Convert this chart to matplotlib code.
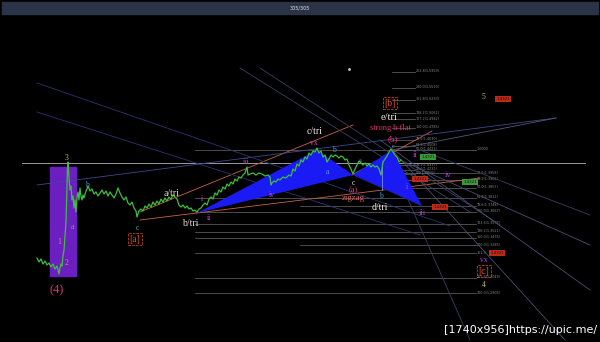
import matplotlib.pyplot as plt
from matplotlib.patches import Rectangle, Polygon

# ── price path (screen units: x to the right, y downward) ─────────────────────
price_x = [37, 39, 41, 43, 45, 47, 49, 51, 53, 55, 57, 59, 60, 61, 62, 63, 64, 65, 66, 66.5,
           67, 67.5, 68, 69, 70, 71, 72, 73, 74, 75, 76, 77, 78, 79, 80, 81, 82, 83, 84, 85,
           88, 90, 92, 94, 96, 98, 100, 102, 104, 106, 108, 110, 112, 114, 116, 118, 120, 122,
           124, 126, 128, 130, 132, 134, 136, 137, 139, 141, 143, 145, 147, 149, 151, 153, 155,
           157, 159, 161, 163, 165, 167, 169, 171, 173, 175, 177, 179, 181, 183, 185, 187, 189,
           191, 193, 195, 197, 199, 201, 203, 205, 207, 209, 211, 213, 215, 217, 219, 221, 223,
           225, 227, 229, 231, 233, 235, 237, 239, 241, 243, 245, 247, 248, 250, 253, 256, 259,
           262, 265, 268, 270, 271, 272, 274, 276, 278, 280, 283, 286, 289, 291, 293, 295, 297,
           299, 301, 303, 305, 307, 309, 311, 313, 315, 317, 319, 321, 323, 325, 327, 329, 331,
           333, 335, 337, 339, 341, 343, 345, 347, 349, 351, 353, 355, 357, 359, 361, 363, 365,
           367, 369, 371, 373, 375, 377, 379, 381, 382, 383, 385, 387, 389, 391, 393, 395, 397,
           399, 401]
price_y = [258, 262, 259, 264, 261, 265, 263, 267, 264, 269, 266, 274, 268, 264, 266, 256, 250,
           236, 222, 205, 185, 168, 162, 178, 190, 186, 200, 196, 208, 200, 212, 198, 192, 200,
           188, 196, 200, 195, 198, 194, 186, 191, 189, 194, 192, 196, 193, 190, 194, 191, 196,
           192, 195, 198, 194, 188, 193, 197, 200, 197, 203, 205, 202, 208, 211, 217, 211, 209,
           211, 206, 208, 204, 207, 202, 205, 201, 204, 199, 202, 198, 201, 197, 199, 195, 197,
           199, 205, 207, 205, 208, 206, 209, 208, 211, 210, 212, 209, 208, 205, 203, 205, 199,
           197, 199, 193, 195, 190, 192, 187, 189, 184, 186, 182, 184, 179, 181, 177, 178, 175,
           173, 167, 175, 174, 173, 175, 173, 174, 176, 175, 177, 185, 183, 181, 182, 179, 180,
           177, 178, 175, 176, 169, 171, 164, 166, 160, 162, 157, 159, 153, 155, 151, 152, 148,
           153, 151, 157, 155, 162, 159, 155, 157, 155, 156, 158, 156, 157, 160, 159, 165, 169,
           174, 169, 165, 161, 163, 165, 163, 166, 164, 167, 165, 167, 166, 169, 175, 169, 162,
           159, 156, 152, 149, 152, 155, 157, 162, 160]

# harmonic pattern points X, A, B, C, D
pattern_x = [197, 317, 353, 392, 422]
pattern_y = [213, 150, 175, 150, 206]

# fibonacci set drawn from wave [b] (short, labels near x=417)
fib_a_y = [72, 88, 100, 113, 119, 128, 140, 146, 150, 165, 170, 174]
fib_a_labels = ["261.8(1.5959)", "200.0(1.5510)", "161.8(1.5233)", "138.2(1.5062)",
                "127.2(1.4982)", "100.0(1.4785)", "78.6(1.4630)", "61.8(1.4508)",
                "50.0(1.4423)", "38.2(1.4337)", "23.6(1.4231)", "0.0(1.4060)"]
# fibonacci set drawn for wave [c] (long, labels near x=477)
fib_b_y = [150, 173, 180, 188, 198, 206, 212, 224, 232, 238, 245, 253, 278, 293]
fib_b_x0 = [195, 400, 400, 400, 195, 300, 195, 195, 195, 195, 300, 195, 195, 195]
fib_b_labels = ["1.0000", "23.6(1.3958)", "38.2(1.3902)", "50.0(1.3857)",
                "61.8(1.3812)", "78.6(1.3748)", "100.0(1.3667)", "123.6(1.3577)",
                "138.2(1.3521)", "150.0(1.3476)", "200.0(1.3285)", "161.8",
                "261.8(1.3049)", "300.0(1.2903)"]

# trend / channel lines: (x0, y0, x1, y1, colour)
trend_lines = [
    (140, 212, 353, 125, "#c8643c"),   # a/tri - c/tri
    (140, 220, 480, 178, "#c8643c"),   # b/tri - d/tri
    (352, 175, 432, 131, "#c8643c"),   # e/tri
    (37, 185, 556, 118, "#3a4a8a"),
    (37, 83, 450, 226, "#2c3470"),
    (37, 112, 420, 235, "#2c3470"),
    (240, 68, 470, 212, "#3a3f66"),
    (260, 68, 500, 225, "#3a3f66"),
    (380, 140, 590, 290, "#4a4f70"),
    (392, 150, 565, 340, "#4a4f70"),
    (400, 160, 590, 245, "#4a4f70"),
    (395, 170, 470, 340, "#3a3f60"),
    (420, 150, 590, 215, "#3a3f60"),
    (392, 150, 556, 118, "#55597a"),
]

# wave labels: (x, y, text, colour, size)
wave_labels = [
    (67, 158, "3", "#c8c060", 5.5), (87, 185, "b", "#4aa0d0", 5.5),
    (72, 227, "a", "#4aa0d0", 5.5), (59, 242, "1", "#e08080", 5.5),
    (67, 263, "2", "#e08080", 5.5), (137, 228, "c", "#40b0d0", 5.5),
    (172, 194, "a/tri", "#e8d0c8", 7), (190, 224, "b/tri", "#e8d8d0", 7),
    (202, 199, "i", "#d040d0", 5.5), (209, 218, "ii", "#d040d0", 5.5),
    (246, 162, "iii", "#d040d0", 5.5), (272, 195, "iv", "#d040d0", 5.5),
    (314, 143, "vx", "#d040d0", 5.5), (315, 131, "c/tri", "#f0e6e0", 7),
    (334, 150, "b", "#4aa0d0", 5.5), (327, 172, "a", "#4aa0d0", 5.5),
    (360, 160, "a", "#4aa0d0", 4.5), (353, 183, "c", "#e0e0e0", 5.5),
    (353, 190, "(a)", "#e03070", 6), (353, 198, "zigzag", "#e06060", 6.5),
    (381, 196, "b", "#4aa0d0", 5.5), (380, 207, "d/tri", "#f0e6e0", 7),
    (393, 147, "c", "#4aa0d0", 5), (393, 139, "(b)", "#e03070", 6.5),
    (390, 128, "strong b flat", "#e03070", 6), (389, 117, "e/tri", "#f0e6e0", 7.5),
    (415, 155, "ii", "#b040e0", 6), (407, 187, "i", "#b040e0", 5.5),
    (448, 175, "iv", "#b040e0", 6), (422, 213, "iii", "#b040e0", 6),
    (483, 97, "5", "#c8c060", 5.5), (484, 260, "vx", "#b040e0", 5.5),
    (484, 285, "4", "#c8c060", 5.5),
]

# bracketed degree labels: (x, y, text)
degree_labels = [(135, 239, "[a]"), (390, 103, "[b]"), (484, 271, "[c]")]

# small price boxes: (x, y, colour)
price_boxes = [(503, 99, "#c02818"), (420, 179, "#c02818"), (440, 207, "#c02818"),
               (497, 253, "#c02818"), (428, 157, "#3a9a3a"), (470, 182, "#3a9a3a")]

fig = plt.figure(figsize=(6, 3.42), dpi=100, facecolor="black")
ax = fig.add_axes([0, 0, 1, 1])
ax.set_facecolor("black")
ax.set_xlim(0, 600)
ax.set_ylim(342, 0)
ax.axis("off")

# top status bar
ax.add_patch(Rectangle((2, 2), 596, 12, color="#2b3446", zorder=1))
ax.text(300, 8, "305/305", color="#e0e4ea", fontsize=3.5, ha="center", va="center")

# wave (4) box
ax.add_patch(Rectangle((50, 167), 26, 109, color="#6c1fc0", zorder=2))

# fib levels
for y, lab in zip(fib_a_y, fib_a_labels):
    ax.plot([392, 415], [y, y], color="#6a6a6a", lw=0.5, zorder=1)
    ax.text(416, y - 0.5, lab, color="#8a8a8a", fontsize=2.4, ha="left", va="center")
for y, x0, lab in zip(fib_b_y, fib_b_x0, fib_b_labels):
    ax.plot([x0, 476], [y, y], color="#6a6a6a", lw=0.5, zorder=1)
    ax.text(477, y - 0.5, lab, color="#8a8a8a", fontsize=2.4, ha="left", va="center")
ax.plot([22, 585], [163, 163], color="#9a9a9a", lw=0.7, zorder=1)

for x0, y0, x1, y1, c in trend_lines:
    ax.plot([x0, x1], [y0, y1], color=c, lw=0.6, zorder=3)

# harmonic triangles
xabcd = list(zip(pattern_x, pattern_y))
ax.add_patch(Polygon(xabcd[0:3], closed=True, facecolor="#1a1af5", edgecolor="none", zorder=4))
ax.add_patch(Polygon(xabcd[2:5], closed=True, facecolor="#1a1af5", edgecolor="none", zorder=4))
ax.plot([pattern_x[2], pattern_x[4]], [pattern_y[2], pattern_y[4]], color="#202060", lw=0.5, zorder=4)
ax.plot([382, 382], [190, 162], color="#8fa8d8", lw=0.5, zorder=5)

ax.plot(price_x, price_y, color="#3cbf3c", lw=0.9, zorder=6)

for x, y, t, c, s in wave_labels:
    ax.text(x, y, t, color=c, fontsize=s, ha="center", va="center",
            family="Liberation Serif", zorder=8)

for x, y, t in degree_labels:
    ax.text(x, y, t, color="#e0502a", fontsize=7, ha="center", va="center",
            family="Liberation Serif", zorder=8,
            bbox=dict(boxstyle="square,pad=0.15", fc="none", ec="#e0502a", lw=0.5, ls="--"))

for x, y, c in price_boxes:
    ax.text(x, y, "1.4321", color="#101010", fontsize=2.8, ha="center", va="center", zorder=8,
            bbox=dict(boxstyle="square,pad=0.3", fc=c, ec="none"))

ax.text(57, 290, "(4)", color="#e0307a", fontsize=9, ha="center", va="center",
        family="Liberation Serif")
ax.plot([349], [69], "o", color="#cccccc", ms=1)

ax.text(597, 330, "[1740x956]https://upic.me/", color="white", fontsize=8,
        ha="right", va="center")

fig.savefig("out.png", dpi=100, facecolor="black")
